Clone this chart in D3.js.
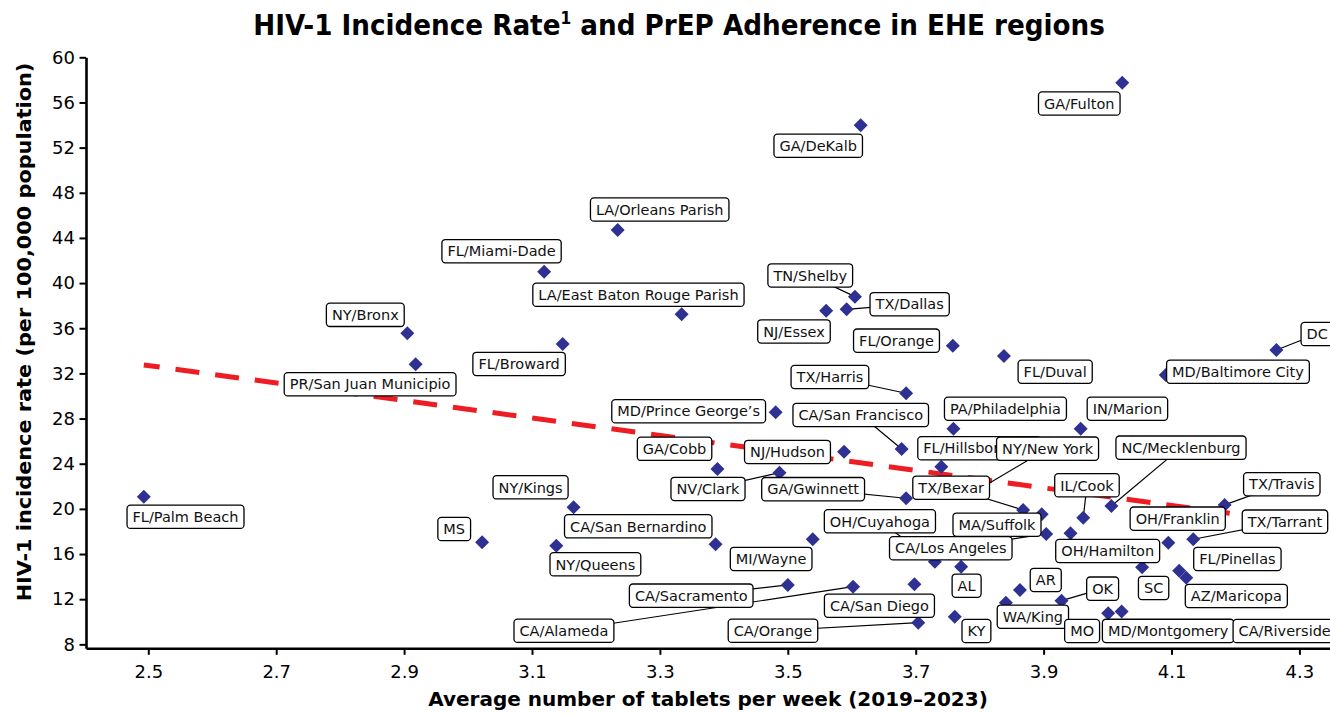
<!DOCTYPE html>
<html>
<head>
<meta charset="utf-8">
<script src="https://cdn.jsdelivr.net/npm/d3@7"></script>
<style>
body { margin: 0; background: #fff; }
svg { display: block; font-family: "DejaVu Sans", Verdana, sans-serif; }
</style>
</head>
<body>
<div class="container"></div>
<script>

// EHE jurisdictions
var regions = [
  "GA/Fulton", "GA/DeKalb", "LA/Orleans Parish", "FL/Miami-Dade", "LA/East Baton Rouge Parish",
  "TN/Shelby", "TX/Dallas", "NJ/Essex", "FL/Orange", "FL/Duval", "DC", "MD/Baltimore City",
  "NY/Bronx", "PR/San Juan Municipio", "FL/Broward", "FL/Palm Beach", "MS", "TX/Harris",
  "MD/Prince George\u2019s", "CA/San Francisco", "GA/Cobb", "NJ/Hudson", "NV/Clark", "GA/Gwinnett",
  "NY/Kings", "CA/San Bernardino", "NY/Queens", "MI/Wayne", "OH/Cuyahoga", "CA/Sacramento",
  "CA/Alameda", "CA/San Diego", "CA/Orange", "PA/Philadelphia", "IN/Marion", "FL/Hillsborough",
  "NY/New York", "NC/Mecklenburg", "TX/Bexar", "IL/Cook", "TX/Travis", "MA/Suffolk",
  "OH/Franklin", "TX/Tarrant", "CA/Los Angeles", "OH/Hamilton", "FL/Pinellas", "AL", "AR",
  "OK", "SC", "AZ/Maricopa", "WA/King", "KY", "MO", "MD/Montgomery", "CA/Riverside"
];

// average number of tablets per week (2019-2023)
var adherence = [
  4.023, 3.614, 3.234, 3.119, 3.334,
  3.605, 3.592, 3.560, 3.758, 3.838, 4.264, 4.091,
  2.905, 2.918, 3.148, 2.493, 3.022, 3.685,
  3.481, 3.678, 3.390, 3.588, 3.487, 3.685,
  3.165, 3.387, 3.138, 3.539, 3.730, 3.500,
  3.602, 3.698, 3.704, 3.759, 3.958, 3.740,
  3.805, 4.006, 3.868, 3.962, 4.183, 3.897,
  4.095, 4.134, 3.904, 3.942, 4.112, 3.771, 3.863,
  3.928, 4.054, 4.123, 3.841, 3.761, 4.001, 4.022, 4.370
];

// HIV-1 incidence rate per 100,000
var incidence = [
  57.75, 53.98, 44.70, 41.01, 37.24,
  38.80, 37.68, 37.56, 34.46, 33.54, 34.07, 31.86,
  35.55, 32.81, 34.61, 21.08, 17.04, 30.24,
  28.56, 25.31, 23.53, 25.07, 23.21, 20.94,
  20.14, 16.86, 16.74, 17.31, 15.32, 13.26,
  13.11, 13.32, 9.92, 27.10, 27.10, 23.74,
  21.94, 20.26, 19.90, 19.22, 20.35, 19.52,
  17.01, 17.31, 17.78, 17.84, 14.53, 14.88, 12.82,
  11.87, 14.83, 13.91, 11.69, 10.45, 10.75, 10.90, 9.60
];

var xTickValues = [2.5, 2.7, 2.9, 3.1, 3.3, 3.5, 3.7, 3.9, 4.1, 4.3];
var yTickValues = [8, 12, 16, 20, 24, 28, 32, 36, 40, 44, 48, 52, 56, 60];

// linear trend
var trendX = [2.493, 4.191];
var trendY = [32.75, 19.61];

// label box placement: centre offset from the point (px), leader line on/off
var labelLayout = {
  "GA/Fulton": [-43, 20.8, 0],
  "GA/DeKalb": [-42.5, 20.5, 0],
  "LA/Orleans Parish": [42, -20.5, 0],
  "FL/Miami-Dade": [-42.6, -20.5, 0],
  "LA/East Baton Rouge Parish": [-43.2, -19.5, 0],
  "TN/Shelby": [-44.7, -21.2, 1],
  "TX/Dallas": [63, -5.1, 1],
  "NJ/Essex": [-32.2, 20.8, 0],
  "FL/Orange": [-56.3, -5, 0],
  "FL/Duval": [51.2, 15.7, 0],
  "DC": [40.8, -16, 1],
  "MD/Baltimore City": [72.2, -3.3, 0],
  "NY/Bronx": [-42, -18.5, 0],
  "PR/San Juan Municipio": [-45.5, 20, 0],
  "FL/Broward": [-43.6, 20, 0],
  "FL/Palm Beach": [41.7, 20.1, 0],
  "MS": [-27.9, -13.3, 0],
  "TX/Harris": [-76.2, -16.3, 1],
  "MD/Prince George\u2019s": [-87, -1, 0],
  "CA/San Francisco": [-40.9, -34, 1],
  "GA/Cobb": [-42.9, -20.2, 0],
  "NJ/Hudson": [-56.6, 0.3, 0],
  "NV/Clark": [-71.5, 16.3, 1],
  "GA/Gwinnett": [-93, -9.1, 1],
  "NY/Kings": [-43, -20, 0],
  "CA/San Bernardino": [-77.3, -18, 0],
  "NY/Queens": [39.1, 18.6, 0],
  "MI/Wayne": [-41.6, 19.7, 0],
  "OH/Cuyahoga": [-55, -40.4, 1],
  "CA/Sacramento": [-96.6, 10.7, 1],
  "CA/Alameda": [-289.1, 44.1, 1],
  "CA/San Diego": [-35, 21.4, 0],
  "CA/Orange": [-145.3, 8.1, 1],
  "PA/Philadelphia": [52, -20, 0],
  "IN/Marion": [46.7, -20, 0],
  "FL/Hillsborough": [38, -18.4, 0],
  "NY/New York": [64.7, -38.3, 1],
  "NC/Mecklenburg": [69.6, -58.3, 1],
  "TX/Bexar": [-72, -22.3, 1],
  "IL/Cook": [3.7, -32.4, 1],
  "TX/Travis": [57.2, -20.7, 1],
  "MA/Suffolk": [-44.7, 10.4, 0],
  "OH/Franklin": [9.4, -24, 0],
  "TX/Tarrant": [91.7, -17.6, 1],
  "CA/Los Angeles": [-95.4, 14.3, 1],
  "OH/Hamilton": [37.2, 17.7, 0],
  "FL/Pinellas": [58.2, -11.7, 0],
  "AL": [5.5, 19, 0],
  "AR": [25.8, -10, 0],
  "OK": [41.1, -12, 1],
  "SC": [11.5, 20.7, 0],
  "AZ/Maricopa": [50.1, 18.3, 0],
  "WA/King": [27, 14, 0],
  "KY": [21.7, 14.3, 0],
  "MO": [-26.1, 17.7, 0],
  "MD/Montgomery": [46.5, 19.3, 0],
  "CA/Riverside": [-59.5, 4.7, 0]
};

var W = 1330, H = 714;

//Makes the stage
function makeStage(w, h) {
  var stage = d3.select(".container")
    .append("svg")
    .attr("width", w)
    .attr("height", h);
  return stage;
}

var svg = makeStage(W, H);

var x = d3.scaleLinear().domain([2.4026, 4.35]).range([86, 1331.4]);
var y = d3.scaleLinear().domain([7.65, 60]).range([648.3, 57.3]);

var points = regions.map(function (r, i) {
  return { name: r, px: x(adherence[i]), py: y(incidence[i]) };
});

// axes
var xAxis = svg.append("g")
  .attr("transform", "translate(0," + y(7.65) + ")")
  .call(d3.axisBottom(x).tickValues(xTickValues).tickSize(6.5).tickSizeOuter(0).tickPadding(10.4)
        .tickFormat(d3.format(".1f")));
var yAxis = svg.append("g")
  .attr("transform", "translate(" + x(2.4026) + ",0)")
  .call(d3.axisLeft(y).tickValues(yTickValues).tickSize(6.5).tickSizeOuter(0).tickPadding(4.5));

[xAxis, yAxis].forEach(function (a) {
  a.select(".domain").attr("stroke", "#000").attr("stroke-width", 2.6);
  a.selectAll(".tick line").attr("stroke", "#000").attr("stroke-width", 2);
  a.selectAll(".tick text").attr("fill", "#000").attr("font-size", "18px")
    .attr("font-family", "DejaVu Sans, Verdana, sans-serif");
});

// trend line, dashes laid out so the last dash ends at the line end
var tx1 = x(trendX[0]), ty1 = y(trendY[0]), tx2 = x(trendX[1]), ty2 = y(trendY[1]);
var tLen = Math.hypot(tx2 - tx1, ty2 - ty1);
svg.append("line")
  .attr("x1", tx1).attr("y1", ty1)
  .attr("x2", tx2).attr("y2", ty2)
  .attr("stroke", "#EE1D23")
  .attr("stroke-width", 5)
  .attr("stroke-dasharray", "24,16")
  .attr("stroke-dashoffset", 24 - (tLen % 40));

// leader lines (drawn to box centre, the boxes cover the rest)
var labelG = svg.append("g");
points.forEach(function (p) {
  var l = labelLayout[p.name];
  p.cx = p.px + l[0];
  p.cy = p.py + l[1];
  if (l[2]) {
    labelG.append("line")
      .attr("x1", p.px).attr("y1", p.py)
      .attr("x2", p.cx).attr("y2", p.cy)
      .attr("stroke", "#000").attr("stroke-width", 1.2);
  }
});

// diamonds
svg.append("g").selectAll("path")
  .data(points)
  .join("path")
  .attr("transform", function (d) { return "translate(" + d.px + "," + d.py + ")"; })
  .attr("d", "M0,-7L7,0L0,7L-7,0Z")
  .attr("fill", "#2E3192");

// label boxes
var boxG = svg.append("g");
points.forEach(function (p) {
  var g = boxG.append("g").attr("transform", "translate(" + p.cx + "," + p.cy + ")");
  var rect = g.append("rect");
  var t = g.append("text")
    .attr("text-anchor", "middle")
    .attr("dy", "0.36em")
    .attr("font-size", "14.5px")
    .attr("fill", "#111")
    .text(p.name);
  var w = t.node().getComputedTextLength() + 11;
  var h = 23.3;
  rect.attr("x", -w / 2).attr("y", -h / 2).attr("width", w).attr("height", h)
    .attr("rx", 3.5)
    .attr("fill", "#fff").attr("stroke", "#000").attr("stroke-width", 1.3);
});

// text squeezed to a target width
function fitText(sel, target) {
  var w = sel.node().getBBox().width;
  return target / w;
}

// title
var title = svg.append("text")
  .attr("text-anchor", "middle")
  .attr("font-weight", "bold")
  .attr("font-size", "29px")
  .attr("fill", "#000");
title.append("tspan").text("HIV-1 Incidence Rate");
title.append("tspan").attr("font-size", "17px").attr("dy", "-11").text("1");
title.append("tspan").attr("dy", "11").text(" and PrEP Adherence in EHE regions");
var s1 = fitText(title, 852);
title.attr("transform", "translate(679,35) scale(" + s1 + ",1)");

// x axis title
var xt = svg.append("text")
  .attr("text-anchor", "middle")
  .attr("font-weight", "bold")
  .attr("font-size", "20px")
  .attr("fill", "#000")
  .text("Average number of tablets per week (2019\u20132023)");
var s2 = fitText(xt, 560);
xt.attr("transform", "translate(708,706) scale(" + s2 + ",1)");

// y axis title
var yt = svg.append("text")
  .attr("text-anchor", "middle")
  .attr("font-weight", "bold")
  .attr("font-size", "20px")
  .attr("fill", "#000")
  .text("HIV-1 incidence rate (per 100,000 population)");
var s3 = fitText(yt, 539);
yt.attr("transform", "translate(31,332) rotate(-90) scale(" + s3 + ",1)");

</script>
</body>
</html>
